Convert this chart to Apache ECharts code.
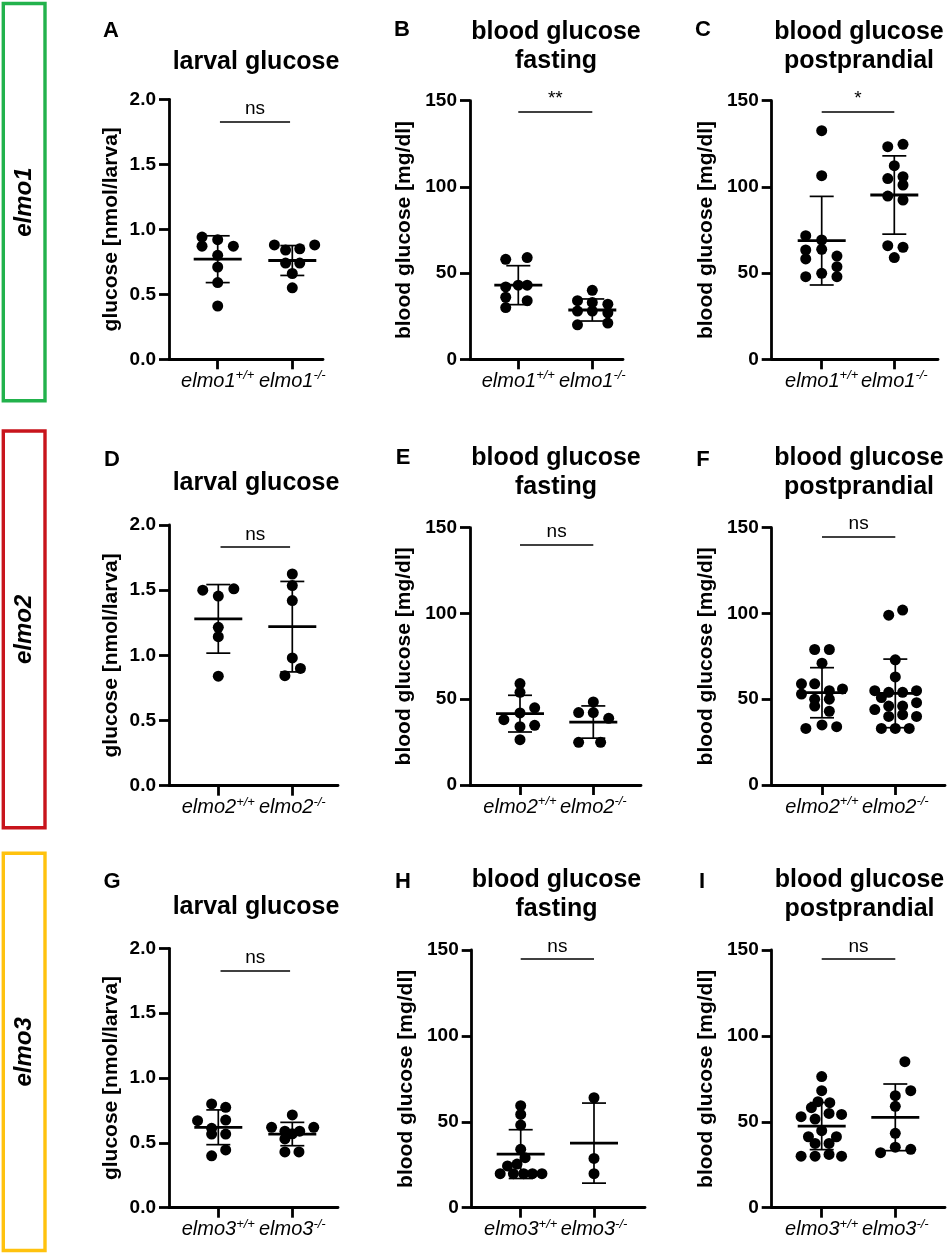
<!DOCTYPE html>
<html>
<head>
<meta charset="utf-8">
<script src="https://cdn.jsdelivr.net/npm/echarts@6/dist/echarts.min.js"></script>
<style>
  html, body { margin: 0; padding: 0; background: #fff; }
  #chart { width: 948px; height: 1254px; }
</style>
</head>
<body>
<div id="chart"></div>
<script>
// ─── Data ──────────────────────────────────────────

const genes = ['elmo1', 'elmo2', 'elmo3'];
const titles = ['larval glucose', 'blood glucose\nfasting', 'blood glucose\npostprandial'];
const yNames = ['glucose [nmol/larva]', 'blood glucose [mg/dl]', 'blood glucose [mg/dl]'];
const genotypes = ['+/+', '-/-'];

const larvalTicks = [0, 0.5, 1, 1.5, 2];
const larvalTickLabels = ['0.0', '0.5', '1.0', '1.5', '2.0'];
const bloodTicks = [0, 50, 100, 150];
const bloodTickLabels = ['0', '50', '100', '150'];

// A – elmo1 larval
const aWt = [0.94, 0.92, 0.87, 0.87, 0.80, 0.71, 0.59, 0.41];
const aWtJitter = [-0.21, 0, -0.21, 0.21, 0, 0, 0, 0];
const aKo = [0.88, 0.88, 0.84, 0.85, 0.74, 0.74, 0.66, 0.55];
const aKoJitter = [-0.24, 0.30, -0.09, 0.10, -0.09, 0.10, 0, 0];
const aMean = [0.77, 0.76];
const aSd = [0.18, 0.115];

// B – elmo1 fasting
const bWt = [58, 59, 43, 43, 42, 36, 34, 30];
const bWtJitter = [-0.17, 0.12, 0, 0.12, -0.17, -0.17, 0.12, -0.17];
const bKo = [40, 34, 33, 32, 28, 28, 27, 20, 21];
const bKoJitter = [0, -0.2, 0, 0.21, -0.2, 0, 0.21, -0.2, 0.21];
const bMean = [43, 28.6];
const bSd = [11.3, 6.4];

// C – elmo1 postprandial
const cWt = [132.6, 106.5, 71.7, 69.2, 63.4, 63.8, 59.9, 58.2, 53.7, 47.9, 49.9, 47.9];
const cWtJitter = [0, 0, -0.22, 0, -0.22, 0, 0.21, -0.22, 0.21, -0.22, 0, 0.21];
const cKo = [123.3, 124.7, 112.3, 104.8, 105.9, 101.1, 94.7, 92.4, 65.9, 65, 59];
const cKoJitter = [-0.09, 0.12, 0, -0.09, 0.12, 0.12, -0.09, 0.12, -0.09, 0.12, 0];
const cMean = [68.8, 95.3];
const cSd = [25.7, 22.7];

// D – elmo2 larval
const dWt = [1.50, 1.51, 1.455, 1.215, 1.143, 0.84];
const dWtJitter = [-0.21, 0.21, 0, 0, 0, 0];
const dKo = [1.624, 1.535, 1.42, 0.98, 0.844, 0.90];
const dKoJitter = [0, 0, 0, 0, -0.1, 0.11];
const dMean = [1.28, 1.22];
const dSd = [0.263, 0.347];

// E – elmo2 fasting
const eWt = [59.1, 54, 38.1, 42, 45, 34.8, 34, 26.4];
const eWtJitter = [0, 0, -0.22, 0, 0.2, 0.2, 0, 0];
const eKo = [48.4, 42.2, 42.2, 38.9, 24.9, 24.9];
const eKoJitter = [0, -0.2, 0, 0.21, -0.2, 0.1];
const eMean = [41.6, 36.7];
const eSd = [10.7, 9.4];

// F – elmo2 postprandial
const fWt = [79, 79, 71, 59, 59, 56, 55, 53, 50, 50, 46, 43, 35, 34, 33];
const fWtJitter = [-0.1, 0.1, 0, -0.28, -0.1, 0.28, 0.1, -0.28, -0.1, 0.1, -0.1, 0.1, 0, 0.2, -0.22];
const fKo = [99, 102, 73, 63, 55, 55, 54, 54, 51, 48, 46, 46, 44, 40, 41, 40, 33, 33, 33];
const fKoJitter = [-0.09, 0.1, 0, 0, -0.28, 0.29, -0.09, 0.1, -0.19, 0.29, -0.09, 0.1, -0.28, -0.09, 0.1, 0.29, -0.19, 0, 0.19];
const fMean = [53.8, 53.4];
const fSd = [14.6, 20];

// G – elmo3 larval
const gWt = [0.80, 0.774, 0.671, 0.676, 0.612, 0.568, 0.568, 0.40, 0.445];
const gWtJitter = [-0.09, 0.1, -0.28, 0.1, -0.09, -0.09, 0.1, -0.09, 0.1];
const gKo = [0.715, 0.62, 0.62, 0.59, 0.59, 0.57, 0.53, 0.43, 0.43];
const gKoJitter = [0, -0.28, 0.29, -0.1, 0.1, 0, -0.1, -0.1, 0.09];
const gMean = [0.62, 0.568];
const gSd = [0.134, 0.09];

// H – elmo3 fasting
const hWt = [59.4, 54.3, 48.1, 34, 29.1, 24.3, 25.4, 19.8, 19.8, 19.8, 19.8, 19.8];
const hWtJitter = [0, 0, 0, 0, 0.06, -0.18, -0.05, -0.28, -0.1, 0.04, 0.16, 0.29];
const hKo = [64, 28.7, 19.8];
const hKoJitter = [0, 0, 0];
const hMean = [31.2, 37.6];
const hSd = [14.2, 23.3];

// I – elmo3 postprandial
const iWt = [76.3, 68.1, 61.7, 58.2, 61.1, 53, 51.6, 54.9, 54.3, 44.8, 41.3, 41.3, 37.4, 37.4, 30, 30, 31, 30];
const iWtJitter = [0, 0, -0.05, -0.14, 0.11, -0.28, -0.09, 0.1, 0.27, 0, -0.18, 0.2, -0.09, 0.1, -0.28, -0.09, 0.1, 0.27];
const iKo = [85, 65.2, 68.1, 59, 43.3, 35.2, 32, 34];
const iKoJitter = [0.13, 0, 0.21, 0, 0, 0, -0.2, 0.21];
const iMean = [47.5, 52.6];
const iSd = [13.7, 19.4];

const sigLabels = ['ns', '**', '*', 'ns', 'ns', 'ns', 'ns', 'ns', 'ns'];
const sigLevels = [1.83, 143.6, 143.6, 1.83, 140.3, 144.8, 1.83, 144.8, 144.8];

// ─── Layout ────────────────────────────────────────

const FONT = "'Liberation Sans', Arial, Helvetica, sans-serif";

// box = [left, top, right, bottom] of each plot area; cats = tick x's; at/tt = letter & title centres
const panels = [
  { letter: 'A', row: 0, col: 0, wt: aWt, wtJ: aWtJitter, ko: aKo, koJ: aKoJitter, mean: aMean, sd: aSd,
    box: [169, 99.3, 323, 359.3], cats: [217.7, 292.3], at: [111, 31], tt: [256, 62.5] },
  { letter: 'B', row: 0, col: 1, wt: bWt, wtJ: bWtJitter, ko: bKo, koJ: bKoJitter, mean: bMean, sd: bSd,
    box: [470, 100.7, 623, 359.3], cats: [518.3, 592.3], at: [402, 30], tt: [556, 46.5] },
  { letter: 'C', row: 0, col: 2, wt: cWt, wtJ: cWtJitter, ko: cKo, koJ: cKoJitter, mean: cMean, sd: cSd,
    box: [771.7, 100.7, 938, 359.3], cats: [821.7, 894.3], at: [703, 30], tt: [859, 46.5] },
  { letter: 'D', row: 1, col: 0, wt: dWt, wtJ: dWtJitter, ko: dKo, koJ: dKoJitter, mean: dMean, sd: dSd,
    box: [169, 525, 338, 785.7], cats: [218.3, 292.3], at: [112, 460], tt: [256, 483] },
  { letter: 'E', row: 1, col: 1, wt: eWt, wtJ: eWtJitter, ko: eKo, koJ: eKoJitter, mean: eMean, sd: eSd,
    box: [470, 527.7, 641, 785], cats: [520, 593.3], at: [403, 458], tt: [556, 472.5] },
  { letter: 'F', row: 1, col: 2, wt: fWt, wtJ: fWtJitter, ko: fKo, koJ: fKoJitter, mean: fMean, sd: fSd,
    box: [771.7, 527.7, 945, 785], cats: [822, 895.3], at: [703, 460], tt: [859, 472.5] },
  { letter: 'G', row: 2, col: 0, wt: gWt, wtJ: gWtJitter, ko: gKo, koJ: gKoJitter, mean: gMean, sd: gSd,
    box: [169, 948.3, 338, 1207.7], cats: [218.3, 292.3], at: [112, 882], tt: [256, 906.7] },
  { letter: 'H', row: 2, col: 1, wt: hWt, wtJ: hWtJitter, ko: hKo, koJ: hKoJitter, mean: hMean, sd: hSd,
    box: [471.7, 950, 645, 1207.7], cats: [520.7, 594], at: [403, 882], tt: [556.5, 894.5] },
  { letter: 'I', row: 2, col: 2, wt: iWt, wtJ: iWtJitter, ko: iKo, koJ: iKoJitter, mean: iMean, sd: iSd,
    box: [771.7, 950, 945, 1207.7], cats: [821.7, 895.3], at: [702, 882], tt: [859.5, 894.5] }
];

const rowBoxes = [
  { y1: 3.5, y2: 400.7, color: '#22b24c' },
  { y1: 431, y2: 827.7, color: '#c8141c' },
  { y1: 853.3, y2: 1250.5, color: '#ffc20e' }
];

// ─── Chart ─────────────────────────────────────────

function errorBarRender(params, api) {
  const x = api.value(0), m = api.value(1), s = api.value(2);
  const c = api.coord([x, m]);
  const hi = api.coord([x, m + s]);
  const lo = api.coord([x, m - s]);
  const st = { stroke: '#000', lineWidth: 1.7 };
  return {
    type: 'group',
    children: [
      { type: 'line', shape: { x1: c[0], y1: hi[1], x2: c[0], y2: lo[1] }, style: st },
      { type: 'line', shape: { x1: c[0] - 12, y1: hi[1], x2: c[0] + 12, y2: hi[1] }, style: st },
      { type: 'line', shape: { x1: c[0] - 12, y1: lo[1], x2: c[0] + 12, y2: lo[1] }, style: st },
      { type: 'line', shape: { x1: c[0] - 24, y1: c[1], x2: c[0] + 24, y2: c[1] },
        style: { stroke: '#000', lineWidth: 2.8 } }
    ]
  };
}

function initChart() {
  const el = document.getElementById('chart');
  const chart = echarts.init(el, null, { renderer: 'canvas' });

  const grid = [], xAxis = [], yAxis = [], series = [], graphic = [];

  panels.forEach((p, i) => {
    const larval = p.col === 0;
    const ticks = larval ? larvalTicks : bloodTicks;
    const tickLabels = larval ? larvalTickLabels : bloodTickLabels;
    const gene = genes[p.row];
    const sp = p.cats[1] - p.cats[0];

    grid.push({
      left: p.box[0], top: p.box[1],
      width: p.box[2] - p.box[0], height: p.box[3] - p.box[1],
      outerBoundsMode: 'none'
    });

    xAxis.push({
      type: 'value', gridIndex: i,
      min: 1 - (p.cats[0] - p.box[0]) / sp,
      max: 2 + (p.box[2] - p.cats[1]) / sp,
      splitLine: { show: false },
      axisLine: { onZero: false, lineStyle: { color: '#000', width: 2.8 } },
      axisTick: { customValues: [1, 2], length: 10, lineStyle: { color: '#000', width: 2.8 } },
      axisLabel: {
        customValues: [1, 2], margin: 10,
        formatter: v => `{g|${gene}}{s|${genotypes[Math.round(v) - 1]}}`,
        rich: {
          g: { fontSize: 20, fontStyle: 'italic', fontFamily: FONT, color: '#000', lineHeight: 24 },
          s: { fontSize: 13, fontStyle: 'italic', fontFamily: FONT, color: '#000', lineHeight: 11, verticalAlign: 'top' }
        }
      }
    });

    yAxis.push({
      type: 'value', gridIndex: i,
      min: ticks[0], max: ticks[ticks.length - 1],
      name: yNames[p.col], nameLocation: 'middle', nameGap: larval ? 47 : 55,
      nameTextStyle: { fontSize: 21, fontWeight: 'bold', fontFamily: FONT, color: '#000' },
      splitLine: { show: false },
      axisLine: { show: true, onZero: false, lineStyle: { color: '#000', width: 2.8 } },
      axisTick: { show: true, customValues: ticks, length: 10, lineStyle: { color: '#000', width: 2.8 } },
      axisLabel: {
        customValues: ticks, margin: 13,
        fontSize: 19, fontWeight: 'bold', fontFamily: FONT, color: '#000',
        formatter: v => tickLabels[ticks.indexOf(v)]
      }
    });

    const sigSpan = larval ? [1.03, 1.97] : [1, 2];
    const dot = { color: '#000', opacity: 1 };

    series.push({
      type: 'scatter', xAxisIndex: i, yAxisIndex: i,
      symbolSize: 11, itemStyle: dot, silent: true,
      data: p.wt.map((v, k) => [1 + p.wtJ[k], v]),
      markLine: {
        silent: true, symbol: ['none', 'none'], animation: false,
        lineStyle: { color: '#000', width: 1.7, type: 'solid', opacity: 1 },
        label: {
          show: true, position: 'insideMiddleTop', distance: 3,
          formatter: sigLabels[i], fontSize: 19, fontFamily: FONT, color: '#000'
        },
        emphasis: { disabled: true },
        data: [[{ coord: [sigSpan[0], sigLevels[i]] }, { coord: [sigSpan[1], sigLevels[i]] }]]
      }
    });
    series.push({
      type: 'scatter', xAxisIndex: i, yAxisIndex: i,
      symbolSize: 11, itemStyle: dot, silent: true,
      data: p.ko.map((v, k) => [2 + p.koJ[k], v])
    });
    series.push({
      type: 'custom', xAxisIndex: i, yAxisIndex: i, silent: true, z: 5,
      renderItem: errorBarRender,
      encode: { x: 0, y: 1 },
      data: [[1, p.mean[0], p.sd[0]], [2, p.mean[1], p.sd[1]]]
    });

    // panel letter & title
    graphic.push({
      type: 'text', x: p.at[0], y: p.at[1],
      style: { text: p.letter, fontSize: 22, fontWeight: 'bold', fontFamily: FONT,
               fill: '#000', align: 'center', verticalAlign: 'middle' }
    });
    graphic.push({
      type: 'text', x: p.tt[0], y: p.tt[1],
      style: { text: titles[p.col], fontSize: 25, fontWeight: 'bold', fontFamily: FONT,
               lineHeight: 29, fill: '#000', align: 'center', verticalAlign: 'middle' }
    });
  });

  // coloured gene boxes on the left
  rowBoxes.forEach((b, r) => {
    graphic.push({
      type: 'rect',
      shape: { x: 3.3, y: b.y1, width: 41.7, height: b.y2 - b.y1 },
      style: { fill: 'none', stroke: b.color, lineWidth: 3.4 }
    });
    graphic.push({
      type: 'text', x: 24.5, y: (b.y1 + b.y2) / 2, rotation: Math.PI / 2,
      style: { text: genes[r], fontSize: 24, fontWeight: 'bold', fontStyle: 'italic',
               fontFamily: FONT, fill: '#000', align: 'center', verticalAlign: 'middle' }
    });
  });

  chart.setOption({
    animation: false,
    backgroundColor: '#fff',
    grid, xAxis, yAxis, series, graphic
  });

  window.addEventListener('resize', () => chart.resize());
}

initChart();
</script>
</body>
</html>
